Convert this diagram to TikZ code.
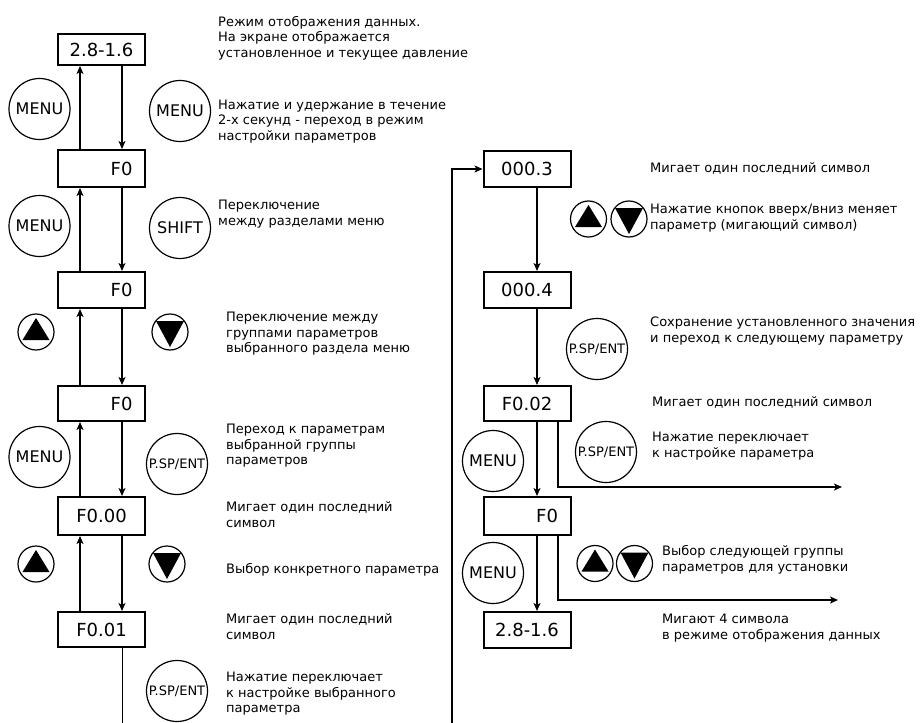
\documentclass[tikz,border=0pt]{standalone}
\usepackage{fontspec}
\setmainfont{DejaVu Sans}
\usetikzlibrary{arrows.meta}
\begin{document}
\begin{tikzpicture}[x=1bp,y=-1bp,
  box/.style={draw,line width=2bp,minimum height=36bp,text width=70bp,inner xsep=8.5bp,inner ysep=0pt,align=center,font=\fontsize{18bp}{20bp}\selectfont},
  rbox/.style={box,text width=62bp,inner xsep=12.5bp,align=right},
  btn/.style={circle,draw,line width=1.2bp,minimum size=61bp,inner sep=0pt,font=\fontsize{16bp}{18bp}\selectfont},
  pbtn/.style={btn,font=\fontsize{13bp}{14bp}\selectfont},
  tbtn/.style={circle,draw,line width=1.2bp,minimum size=36bp,inner sep=0pt},
  desc/.style={anchor=base west,align=left,inner sep=0pt,font=\fontsize{13bp}{15.4bp}\selectfont},
  arr/.style={line width=1.4bp,-{Stealth[length=8bp,width=7bp,inset=2bp]}},
  ln/.style={line width=1.4bp}]
\useasboundingbox (0,0) rectangle (923,723);
\newcommand{\upbtn}[2]{\node[tbtn] (#1) at (#2) {};
  \fill ([shift={(0,-14)}]#1.center) -- ([shift={(-13.5,8)}]#1.center) -- ([shift={(13.5,8)}]#1.center) -- cycle;}
\newcommand{\dnbtn}[2]{\node[tbtn] (#1) at (#2) {};
  \fill ([shift={(0,15)}]#1.center) -- ([shift={(-14,-11)}]#1.center) -- ([shift={(14,-11)}]#1.center) -- cycle;}
% left boxes
\node[box,minimum height=31bp] (B1) at (101.5,49.5) {\mbox{2.8-1.6}};
\node[rbox,minimum height=37bp] (B2) at (101.5,168.5) {F0};
\node[rbox] (B3) at (101.5,290) {F0};
\node[rbox,minimum height=35bp] (B4) at (101.5,403.5) {F0};
\node[box,minimum height=38bp] (B5) at (101.5,516) {F0.00};
\node[box,minimum height=35bp] (B6) at (101.5,629.5) {F0.01};
% right boxes
\node[box] (R1) at (527,169) {000.3};
\node[box] (R2) at (527,290) {000.4};
\node[box,minimum height=35bp] (R3) at (527,403.5) {F0.02};
\node[rbox,minimum height=38bp] (R4) at (527,516) {F0};
\node[box] (R5) at (527,630) {\mbox{2.8-1.6}};
% column coordinates
\coordinate (lu) at (80,0);
\coordinate (ld) at (122,0);
\coordinate (rd) at (537,0);
\coordinate (rs) at (558,0);
\coordinate (lbot) at (122.5,723);
\coordinate (rbot) at (452,723);
\coordinate (e1) at (842,487);
\coordinate (e2) at (838,600);
% left connectors
\draw[arr] (B2.north -| lu) -- (B1.south -| lu);
\draw[arr] (B1.south -| ld) -- (B2.north -| ld);
\draw[arr] (B3.north -| lu) -- (B2.south -| lu);
\draw[arr] (B2.south -| ld) -- (B3.north -| ld);
\draw[arr] (B4.north -| lu) -- (B3.south -| lu);
\draw[arr] (B3.south -| ld) -- (B4.north -| ld);
\draw[arr] (B5.north -| lu) -- (B4.south -| lu);
\draw[arr] (B4.south -| ld) -- (B5.north -| ld);
\draw[arr] (B6.north -| lu) -- (B5.south -| lu);
\draw[arr] (B5.south -| ld) -- (B6.north -| ld);
\draw[ln] (B6.south -| lbot) -- (lbot);
% right connectors
\draw[arr] (rbot) |- (R1.west);
\draw[arr] (R1.south -| rd) -- (R2.north -| rd);
\draw[arr] (R2.south -| rd) -- (R3.north -| rd);
\draw[arr] (R3.south -| rd) -- (R4.north -| rd);
\draw[arr] (R4.south -| rd) -- (R5.north -| rd);
\draw[arr] (R3.south -| rs) |- (e1);
\draw[arr] (R4.south -| rs) |- (e2);
% buttons left
\node[btn] (m1) at (39.5,109) {MENU};
\node[btn] (m2) at (180,111) {MENU};
\node[btn] (m3) at (39.5,226) {MENU};
\node[btn] (s1) at (180,228) {SHIFT};
\upbtn{u1}{36,332}
\dnbtn{d1}{170,332}
\node[btn] (m4) at (39.5,457) {MENU};
\node[pbtn] (p1) at (177,464) {P.SP/ENT};
\upbtn{u2}{36,564}
\dnbtn{d2}{167,564}
\node[pbtn] (p2) at (177,691) {P.SP/ENT};
% buttons right
\upbtn{u3}{588.5,219}
\dnbtn{d3}{629,219}
\node[pbtn] (p3) at (597,349) {P.SP/ENT};
\node[btn] (m5) at (493,461) {MENU};
\node[pbtn] (p4) at (606,452) {P.SP/ENT};
\node[btn] (m6) at (493,573) {MENU};
\upbtn{u4}{595,563.5}
\dnbtn{d4}{634.5,563.5}
% descriptions left (anchor = baseline of last line)
\node[desc] (t1) at (218,57.1) {Режим отображения данных.\\На экране отображается\\установленное и текущее давление};
\node[desc] (t2) at (218,140.4) {Нажатие и удержание в течение\\2-х секунд - переход в режим\\настройки параметров};
\node[desc] (t3) at (218,225) {Переключение\\между разделами меню};
\node[desc] (t4) at (226,352.4) {Переключение между\\группами параметров\\выбранного раздела меню};
\node[desc] (t5) at (226,464.4) {Переход к параметрам\\выбранной группы\\параметров};
\node[desc] (t6) at (226,527) {Мигает один последний\\символ};
\node[desc] (t7) at (226,573.6) {Выбор конкретного параметра};
\node[desc] (t8) at (226,639) {Мигает один последний\\символ};
\node[desc] (t9) at (226,712.4) {Нажатие переключает\\к настройке выбранного\\параметра};
% descriptions right
\node[desc] (t10) at (650,172.6) {Мигает один последний символ};
\node[desc] (t11) at (650,229) {Нажатие кнопок вверх/вниз меняет\\параметр (мигающий символ)};
\node[desc] (t12) at (650,342) {Сохранение установленного значения\\и переход к следующему параметру};
\node[desc] (t13) at (652,406.6) {Мигает один последний символ};
\node[desc] (t14) at (652,457) {Нажатие переключает\\к настройке параметра};
\node[desc] (t15) at (662,571) {Выбор следующей группы\\параметров для установки};
\node[desc] (t16) at (662,639) {Мигают 4 символа\\в режиме отображения данных};
\end{tikzpicture}
\end{document}
